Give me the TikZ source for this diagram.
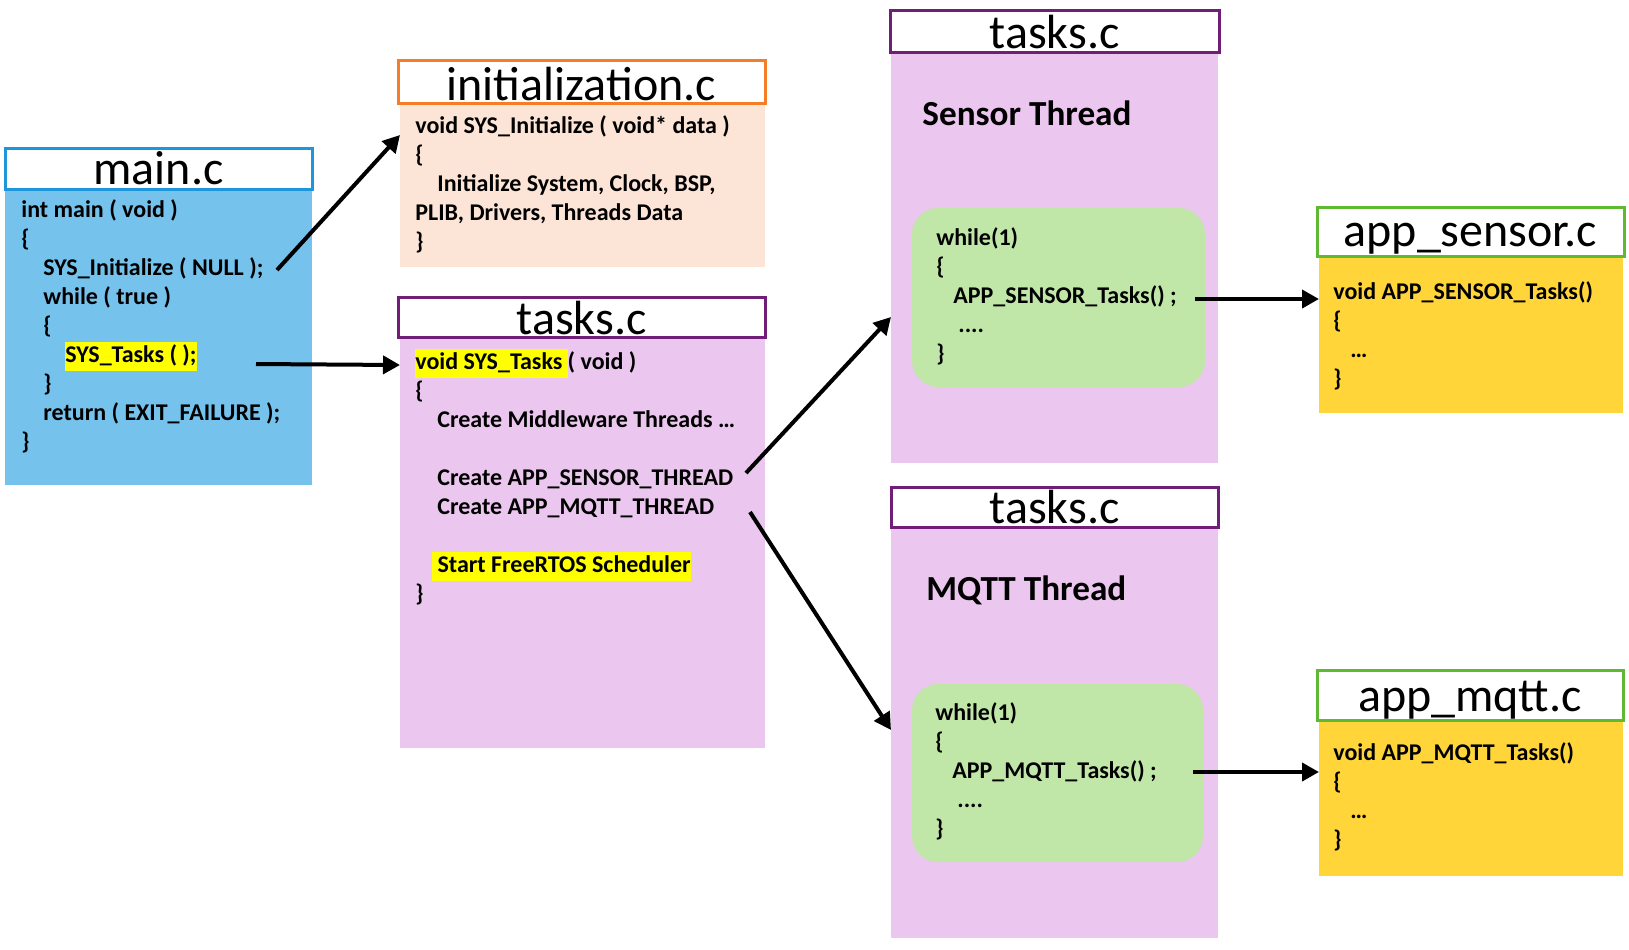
\documentclass[tikz,border=0pt]{standalone}
\usepackage{fontspec}
\setmainfont{Carlito}
\usetikzlibrary{arrows.meta,fit}
\definecolor{mainblue}{RGB}{117,194,236}
\definecolor{mainline}{RGB}{30,150,220}
\definecolor{initfill}{RGB}{252,228,214}
\definecolor{initline}{RGB}{245,125,40}
\definecolor{taskfill}{RGB}{235,198,238}
\definecolor{taskline}{RGB}{112,30,120}
\definecolor{loopfill}{RGB}{192,231,168}
\definecolor{appfill}{RGB}{255,213,58}
\definecolor{appline}{RGB}{95,185,50}
\definecolor{hlyellow}{RGB}{255,255,0}
\newcommand{\hl}[1]{{\setlength{\fboxsep}{0pt}\colorbox{hlyellow}{\strut#1}}}

\begin{document}
\begin{tikzpicture}[x=0.5pt,y=-0.5pt,
	filetitle/.style={draw,line width=1.5pt,fill=white,inner sep=0pt},
	titletext/.style={anchor=base,inner sep=0pt,font=\fontsize{24}{24}\selectfont},
	filebody/.style={inner sep=0pt,outer sep=0pt},
	loopbox/.style={fill=loopfill,rounded corners=13pt,inner sep=0pt},
	codetext/.style={anchor=north west,inner sep=0pt,align=left,font=\fontsize{12}{14.5}\selectfont\bfseries},
	threadhead/.style={anchor=base west,inner sep=0pt,font=\fontsize{17.6}{20}\selectfont\bfseries},
	callarrow/.style={line width=2pt,-{Triangle[length=8.5pt,width=9pt]}}]
	\useasboundingbox (0,0) rectangle (1629,949);
	% file bodies
	\node[filebody,fill=mainblue,fit={(5,189) (312,485)}] (mainbody) {};
	\node[filebody,fill=initfill,fit={(400,103) (765,267)}] (initbody) {};
	\node[filebody,fill=taskfill,fit={(400,337) (765,748)}] (tasksbody) {};
	\node[filebody,fill=taskfill,fit={(891,52) (1218,463)}] (sensorbody) {};
	\node[filebody,fill=taskfill,fit={(891,527) (1218,938)}] (mqttbody) {};
	\node[filebody,fill=appfill,fit={(1319,256) (1623,413)}] (appsbody) {};
	\node[filebody,fill=appfill,fit={(1319,720) (1623,876)}] (appmbody) {};
	% file names
	\node[filetitle,draw=mainline,fit={(5,148) (312,189)}] (maintitle) {};
	\node[filetitle,draw=initline,fit={(398,60) (765,103)}] (inittitle) {};
	\node[filetitle,draw=taskline,fit={(398,297) (765,337)}] (taskstitle) {};
	\node[filetitle,draw=taskline,fit={(890,10) (1219,52)}] (sensortitle) {};
	\node[filetitle,draw=taskline,fit={(891,487) (1218,527)}] (mqtttitle) {};
	\node[filetitle,draw=appline,fit={(1317,207) (1624,256)}] (appstitle) {};
	\node[filetitle,draw=appline,fit={(1317,670) (1623,720)}] (appmtitle) {};
	\node[titletext] (mainname) at ([yshift=3pt]maintitle.south) {main.c};
	\node[titletext] (initname) at ([yshift=2pt]inittitle.south) {initialization.c};
	\node[titletext] (tasksname) at ([yshift=2pt]taskstitle.south) {tasks.c};
	\node[titletext] (sensorname) at ([yshift=2.5pt]sensortitle.south) {tasks.c};
	\node[titletext] (mqttname) at ([yshift=2.5pt]mqtttitle.south) {tasks.c};
	\node[titletext] (appsname) at ([yshift=5.5pt]appstitle.south) {app\_sensor.c};
	\node[titletext] (appmname) at ([yshift=5pt]appmtitle.south) {app\_mqtt.c};
	% thread loops
	\node[loopbox,fit={(912,208) (1205,387)}] (sensorloop) {};
	\node[loopbox,fit={(912,684) (1203,862)}] (mqttloop) {};
	\node[threadhead] (sensorhead) at (922,125) {Sensor Thread};
	\node[threadhead] (mqtthead) at (926,600) {MQTT Thread};
	% code
	\node[codetext] (maincode) at (21,197) {\strut int main ( void )\\
		\{\\
		\hspace*{11pt}SYS\_Initialize ( NULL );\\
		\hspace*{11pt}while ( true )\\
		\hspace*{11pt}\{\\
		\hspace*{22pt}\hl{SYS\_Tasks ( );}\\
		\hspace*{11pt}\}\\
		\hspace*{11pt}return ( EXIT\_FAILURE );\\
		\}};
	\node[codetext] (initcode) at (415,113) {\strut void SYS\_Initialize ( void* data )\\
		\{\\
		\hspace*{11pt}Initialize System, Clock, BSP,\\
		PLIB, Drivers, Threads Data\\
		\}};
	\node[codetext] (taskscode) at (415,349) {\hl{void SYS\_Tasks\ }( void )\\
		\{\\
		\hspace*{11pt}Create Middleware Threads \ldots\\
		\mbox{}\\
		\hspace*{11pt}Create APP\_SENSOR\_THREAD\\
		\hspace*{11pt}Create APP\_MQTT\_THREAD\\
		\mbox{}\\
		\hspace*{8.4pt}\hl{\ Start FreeRTOS Scheduler}\\
		\}};
	\node[codetext] (sensorcode) at (936,225) {\strut while(1)\\
		\{\\
		\hspace*{8.5pt}APP\_SENSOR\_Tasks() ;\\
		\hspace*{11pt}....\\
		\}};
	\node[codetext] (mqttcode) at (935,700) {\strut while(1)\\
		\{\\
		\hspace*{8.5pt}APP\_MQTT\_Tasks() ;\\
		\hspace*{11pt}....\\
		\}};
	\node[codetext] (appscode) at (1333,279) {\strut void APP\_SENSOR\_Tasks()\\
		\{\\
		\hspace*{8.5pt}\ldots\\
		\}};
	\node[codetext] (appmcode) at (1333,740) {\strut void APP\_MQTT\_Tasks()\\
		\{\\
		\hspace*{8.5pt}\ldots\\
		\}};
	% calls
	\coordinate (initcall) at (277,270);
	\coordinate (taskcall) at (256,364);
	\coordinate (sensorcall) at (746,473);
	\coordinate (mqttcall) at (750,512);
	\coordinate (sensorjob) at (1195,299);
	\coordinate (mqttjob) at (1193,772);
	\draw[callarrow] (initcall) -- ([yshift=-16pt]initbody.north west);
	\draw[callarrow] (taskcall) -- ([yshift=-14pt]tasksbody.north west);
	\draw[callarrow] (sensorcall) -- ([yshift=-132.5pt]sensorbody.north west);
	\draw[callarrow] (mqttcall) -- ([yshift=-101.5pt]mqttbody.north west);
	\draw[callarrow] (sensorjob) -- ([yshift=-21.5pt]appsbody.north west);
	\draw[callarrow] (mqttjob) -- ([yshift=-26pt]appmbody.north west);
\end{tikzpicture}
\end{document}
